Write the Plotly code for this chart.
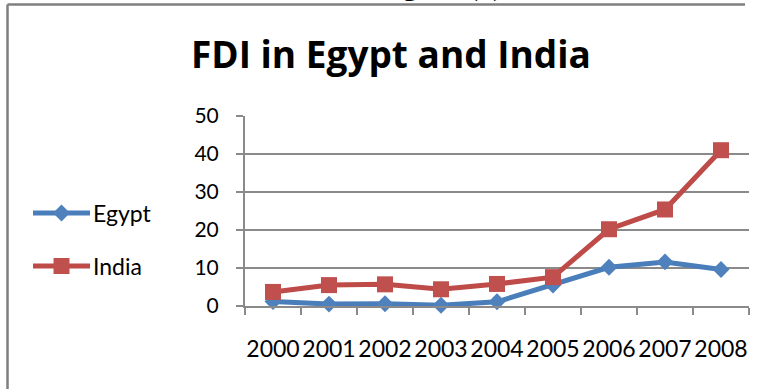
import plotly.graph_objects as go

# FDI inflows (billion US$)
years = ["2000", "2001", "2002", "2003", "2004", "2005", "2006", "2007", "2008"]
egypt = [1.2, 0.5, 0.6, 0.2, 1.1, 5.5, 10.2, 11.6, 9.6]
india = [3.7, 5.5, 5.7, 4.4, 5.8, 7.6, 20.2, 25.4, 41.0]
y_ticks = [0, 10, 20, 30, 40, 50]
series_names = ["Egypt", "India"]

W, H = 765, 389
ML, MR, MT, MB = 0, 16, 116, 83
PW = W - ML - MR          # paper width in px
PH = H - MT - MB          # paper height in px
PLOT_LEFT = 245           # left edge of the plotting area in px

def px_x(x):
    return (x - ML) / PW

def px_y(y):
    return (H - MB - y) / PH

BLUE_LINE, BLUE_MK = "#4A7EBB", "#4F81BD"
RED_LINE, RED_MK = "#BE4B48", "#C0504D"
GRID = "#8A8A8A"
FONT = "Lato"

fig = go.Figure()

fig.add_trace(go.Scatter(
    x=years, y=egypt, name=series_names[0], mode="lines+markers",
    line=dict(color=BLUE_LINE, width=5),
    marker=dict(symbol="diamond", size=13, color=BLUE_MK),
    showlegend=False, cliponaxis=False))
fig.add_trace(go.Scatter(
    x=years, y=india, name=series_names[1], mode="lines+markers",
    line=dict(color=RED_LINE, width=5),
    marker=dict(symbol="square", size=16, color=RED_MK),
    showlegend=False, cliponaxis=False))

# Legend keys drawn on a small helper axis at the left
legend_rows = [(series_names[0], BLUE_LINE, BLUE_MK, "diamond", 13, 213),
               (series_names[1], RED_LINE, RED_MK, "square", 16, 266)]
for name, lc, mc, sym, sz, ypx in legend_rows:
    yy = px_y(ypx)
    fig.add_trace(go.Scatter(
        x=[0, 1], y=[yy, yy], mode="lines", line=dict(color=lc, width=5),
        xaxis="x2", yaxis="y2", showlegend=False, hoverinfo="skip"))
    fig.add_trace(go.Scatter(
        x=[0.5], y=[yy], mode="markers",
        marker=dict(symbol=sym, size=sz, color=mc),
        xaxis="x2", yaxis="y2", showlegend=False, hoverinfo="skip",
        cliponaxis=False))
    fig.add_annotation(
        text=name, xref="paper", yref="paper", x=px_x(91), y=yy,
        xanchor="left", yanchor="middle", showarrow=False,
        font=dict(family=FONT, size=23, color="black"))

fig.add_annotation(
    text="<b>FDI in Egypt and India</b>", xref="paper", yref="paper",
    x=px_x(391), y=px_y(53), xanchor="center", yanchor="middle",
    showarrow=False, font=dict(family="Open Sans", size=37, color="black"))

# Caption of the page above the chart frame
fig.add_annotation(
    text="<b>Figure (1)</b>", xref="paper", yref="paper",
    x=px_x(439), y=px_y(4), xanchor="center", yanchor="bottom",
    showarrow=False, font=dict(family="Liberation Serif", size=30, color="black"))

# Chart frame (top and left edges)
FRAME = dict(color="#7F7F7F", width=2.5)
fig.add_shape(type="line", xref="paper", yref="paper",
              x0=px_x(7.5), x1=px_x(745), y0=px_y(4.5), y1=px_y(4.5),
              line=FRAME, layer="below")
fig.add_shape(type="line", xref="paper", yref="paper",
              x0=px_x(7.5), x1=px_x(7.5), y0=px_y(4.5), y1=px_y(389),
              line=FRAME, layer="below")

fig.update_layout(
    width=W, height=H,
    margin=dict(l=ML, r=MR, t=MT, b=MB),
    paper_bgcolor="white", plot_bgcolor="white",
    font=dict(family=FONT, color="black"),
    xaxis=dict(
        type="category", domain=[px_x(PLOT_LEFT), 1], range=[-0.5, 8.5],
        tickson="boundaries", ticks="outside", ticklen=7, tickwidth=2,
        tickcolor=GRID, showline=True, linecolor=GRID, linewidth=2,
        showgrid=False, tickfont=dict(size=23), tickangle=0,
        ticklabelstandoff=21, fixedrange=True),
    yaxis=dict(
        range=[0, 50], tickvals=y_ticks, ticks="outside", ticklen=7,
        tickwidth=2, tickcolor=GRID, showline=True, linecolor=GRID,
        linewidth=2, showgrid=True, gridcolor=GRID, gridwidth=2,
        zeroline=False, tickfont=dict(size=21), ticklabelstandoff=13,
        fixedrange=True),
    xaxis2=dict(domain=[px_x(33), px_x(90)], range=[0, 1], visible=False,
                anchor="y2", fixedrange=True),
    yaxis2=dict(domain=[0, 1], range=[0, 1], visible=False,
                anchor="x2", fixedrange=True),
)

fig.write_html("out.html")
